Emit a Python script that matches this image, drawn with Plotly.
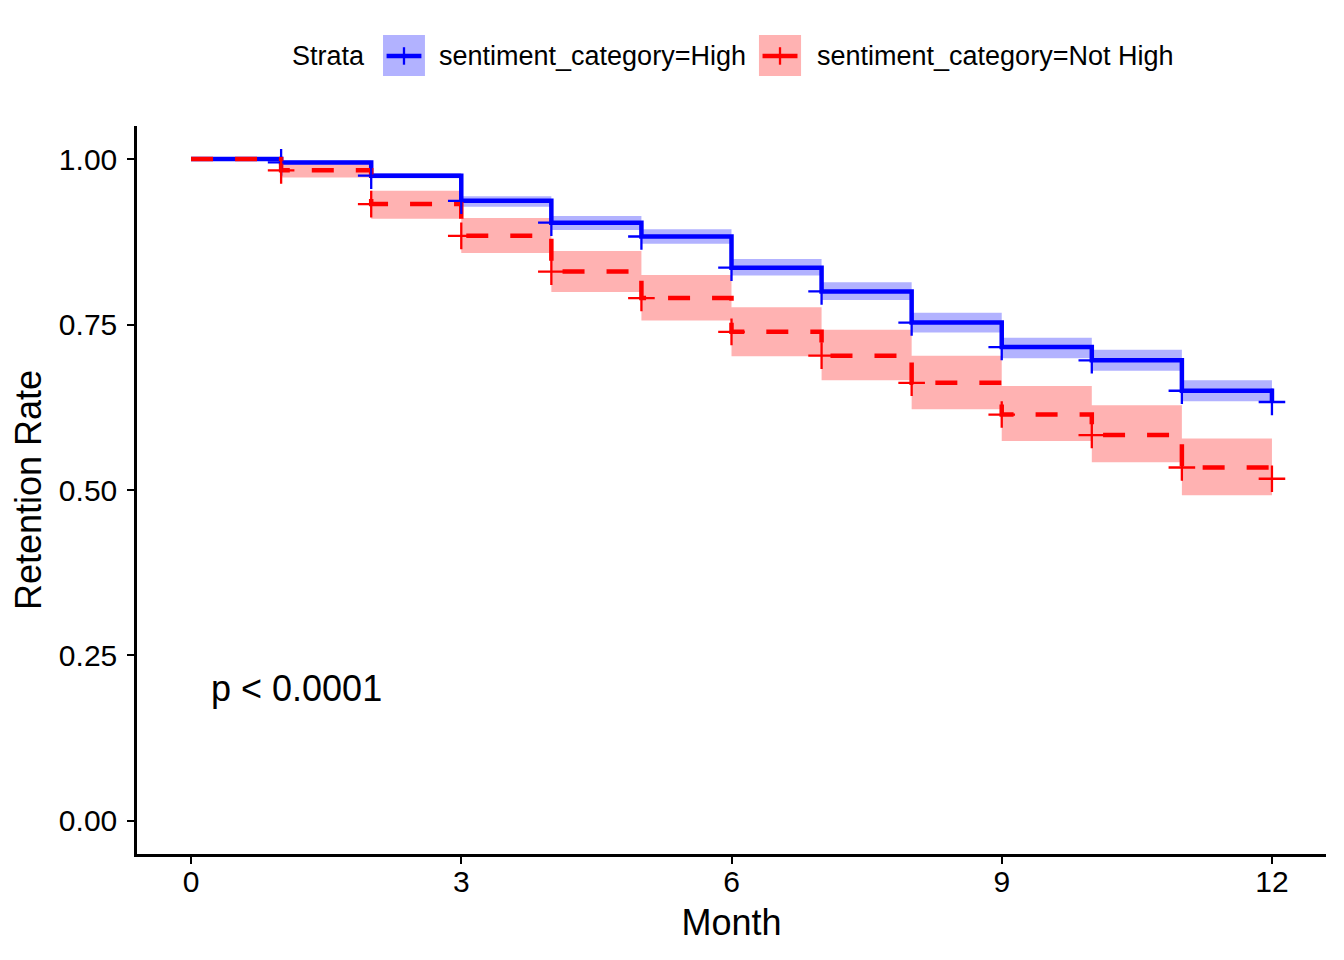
import plotly.graph_objects as go

# ---- data ----
months = [0, 1, 2, 3, 4, 5, 6, 7, 8, 9, 10, 11, 12]

high_surv  = [1.000, 0.995, 0.975, 0.937, 0.904, 0.883, 0.836, 0.800, 0.753, 0.716, 0.696, 0.650, 0.633]
high_upper = [1.000, 0.998, 0.979, 0.944, 0.914, 0.894, 0.849, 0.814, 0.768, 0.730, 0.712, 0.666, 0.650]
high_lower = [1.000, 0.992, 0.971, 0.928, 0.893, 0.872, 0.824, 0.787, 0.738, 0.699, 0.680, 0.634, 0.616]

not_surv  = [1.000, 0.983, 0.932, 0.884, 0.830, 0.790, 0.739, 0.703, 0.662, 0.614, 0.583, 0.534, 0.517]
not_upper = [1.000, 0.992, 0.952, 0.911, 0.861, 0.825, 0.776, 0.742, 0.703, 0.657, 0.628, 0.578, 0.562]
not_lower = [1.000, 0.972, 0.910, 0.858, 0.799, 0.756, 0.702, 0.666, 0.622, 0.574, 0.542, 0.492, 0.474]

censor_months = [1, 2, 3, 4, 5, 6, 7, 8, 9, 10, 11, 12]

x_ticks = [0, 3, 6, 9, 12]
y_ticks = [0.0, 0.25, 0.5, 0.75, 1.0]

strata_labels = ["sentiment_category=High", "sentiment_category=Not High"]
p_text = "p < 0.0001"

BLUE = "#0000FF"
RED = "#FF0000"
BLUE_FILL = "rgba(0,0,255,0.3)"
RED_FILL = "rgba(255,0,0,0.3)"
FONT = "Liberation Sans, Arial, Helvetica, sans-serif"

fig = go.Figure()

# ribbons
for lo, up, fc in [(high_lower, high_upper, BLUE_FILL), (not_lower, not_upper, RED_FILL)]:
    fig.add_trace(go.Scatter(x=months, y=lo, mode="lines", line=dict(width=0, shape="hv"),
                             hoverinfo="skip", showlegend=False))
    fig.add_trace(go.Scatter(x=months, y=up, mode="lines", line=dict(width=0, shape="hv"),
                             fill="tonexty", fillcolor=fc, hoverinfo="skip", showlegend=False))

# step curves
fig.add_trace(go.Scatter(x=months, y=high_surv, mode="lines",
                         line=dict(color=BLUE, width=4.5, shape="hv"), showlegend=False))
fig.add_trace(go.Scatter(x=months, y=not_surv, mode="lines",
                         line=dict(color=RED, width=4.5, shape="hv", dash="22px,22px"), showlegend=False))

# censor marks
def at(vals, ts):
    return [vals[months.index(t)] for t in ts]

fig.add_trace(go.Scatter(x=censor_months, y=at(high_surv, censor_months), mode="markers",
                         marker=dict(symbol="cross-thin", size=19, line=dict(color=BLUE, width=2.3)),
                         showlegend=False))
fig.add_trace(go.Scatter(x=censor_months, y=at(not_surv, censor_months), mode="markers",
                         marker=dict(symbol="cross-thin", size=19, line=dict(color=RED, width=2.3)),
                         showlegend=False))

# p-value
fig.add_annotation(x=0.2, y=0.2, xref="x", yref="y", text=p_text, showarrow=False,
                   xanchor="left", yanchor="middle", font=dict(family=FONT, size=36, color="black"))

# manual legend (ggplot style keys)
shapes = []
annotations = []
ly = 1.0962
annotations.append(dict(x=0.1934, y=ly, xref="paper", yref="paper", text="Strata", showarrow=False,
                        xanchor="right", yanchor="middle", font=dict(family=FONT, size=27, color="black")))
keys = [(0.2069, 0.2422, 0.2525, BLUE, BLUE_FILL, strata_labels[0]),
        (0.5231, 0.5585, 0.5700, RED, RED_FILL, strata_labels[1])]
for x0, x1, xt, col, fc, lab in keys:
    shapes.append(dict(type="rect", xref="paper", yref="paper", x0=x0, x1=x1, y0=1.0687, y1=1.125,
                       fillcolor=fc, line=dict(width=0), layer="above"))
    shapes.append(dict(type="line", xref="paper", yref="paper", x0=x0 + 0.003, x1=x1 - 0.003, y0=ly, y1=ly,
                       line=dict(color=col, width=4.5), layer="above"))
    xc = (x0 + x1) / 2
    shapes.append(dict(type="line", xref="paper", yref="paper", x0=xc, x1=xc, y0=ly - 0.012, y1=ly + 0.012,
                       line=dict(color=col, width=2.3), layer="above"))
    annotations.append(dict(x=xt, y=ly, xref="paper", yref="paper", text=lab, showarrow=False,
                            xanchor="left", yanchor="middle", font=dict(family=FONT, size=27, color="black")))

# page has an 8px body margin, so the figure is sized/offset to compensate
fig.update_layout(
    width=1336, height=952,
    margin=dict(l=129, r=18, t=118, b=106),
    paper_bgcolor="white", plot_bgcolor="white",
    font=dict(family=FONT, color="black"),
    showlegend=False,
    shapes=shapes,
)
for a in annotations:
    fig.add_annotation(**a)

fig.update_xaxes(range=[-0.6, 12.6], tickvals=x_ticks, showgrid=False, zeroline=False,
                 showline=True, linecolor="black", linewidth=2.5, ticks="outside", ticklen=7,
                 tickwidth=2, tickcolor="black", tickfont=dict(size=30, family=FONT, color="black"),
                 ticklabelstandoff=-8,
                 title=dict(text="Month", font=dict(size=36, family=FONT, color="black"), standoff=14))
fig.update_yaxes(range=[-0.05, 1.05], tickvals=y_ticks, tickformat=".2f", showgrid=False, zeroline=False,
                 showline=True, linecolor="black", linewidth=2.5, ticks="outside", ticklen=7,
                 tickwidth=2, tickcolor="black", tickfont=dict(size=30, family=FONT, color="black"),
                 ticklabelstandoff=4,
                 title=dict(text="Retention Rate", font=dict(size=36, family=FONT, color="black"), standoff=14))

fig.write_html("out.html")
